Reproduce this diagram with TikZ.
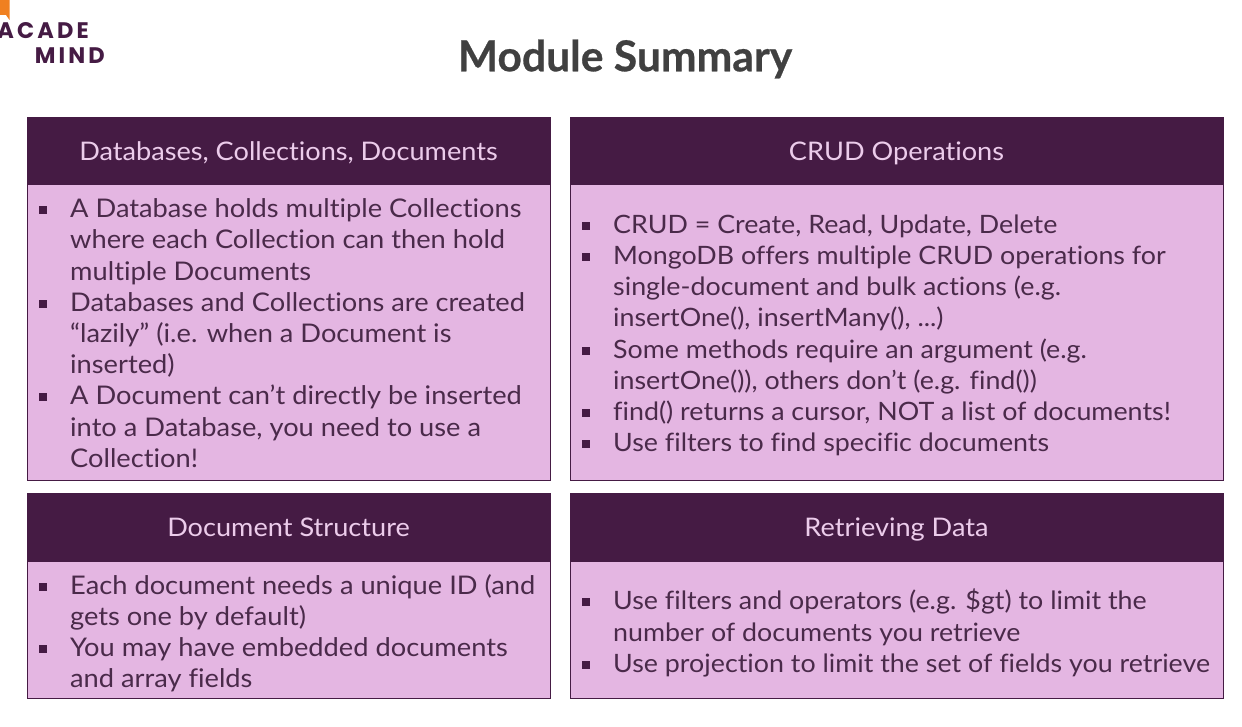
\documentclass[tikz,border=0pt]{standalone}
\usepackage{fontspec}
\setmainfont{Lato}
\newfontfamily\hdfont[FakeStretch=1.06,Ligatures=NoCommon]{Lato}
\newfontfamily\titlefont[FakeBold=0.6]{Lato Bold}
\newfontfamily\logofont[LetterSpace=14]{Poppins Bold}
\definecolor{plum}{HTML}{451B44}
\definecolor{lilac}{HTML}{E4B6E2}
\definecolor{inktxt}{HTML}{4A2A4A}
\definecolor{titlegrey}{HTML}{404040}
\definecolor{logoorange}{HTML}{F08020}
\newcommand{\bul}{\makebox[0pt][r]{\textcolor{plum}{\rule[3.5pt]{8pt}{8pt}}\hspace{23pt}}}
\tikzset{
 headbox/.style={draw=plum,fill=plum,line width=1pt,inner sep=0pt},
 bodybox/.style={draw=plum,fill=lilac,line width=1pt,inner sep=0pt},
 headtxt/.style={text=lilac!70!white,font=\hdfont\fontsize{25.6}{30}\selectfont,anchor=center,inner sep=0pt},
 listtxt/.style={text=inktxt,anchor=north west,inner sep=0pt,align=left,font=\hdfont\fontsize{25.7}{31.2}\selectfont},
 listwide/.style={listtxt,font=\hdfont\fontsize{25.3}{31.2}\selectfont},
 logotxt/.style={anchor=east,inner sep=0pt,text=plum,font=\logofont\fontsize{22.5}{26}\selectfont},
}
\begin{document}
\begin{tikzpicture}[x=1pt,y=-1pt]
\useasboundingbox (0,0) rectangle (1242,727);
\fill[white] (0,0) rectangle (1242,727);
\begin{scope}
\clip (0,0) rectangle (1242,727);
\fill[logoorange] (0,0) -- (9.5,0) -- (9.5,20) -- (6,15) -- (0,15) -- cycle;
\node[logotxt] (logoa) at (89,31) {ACADE};
\end{scope}
\node[logotxt] (logob) at (105,55.5) {MIND};
\node[anchor=center,inner sep=0pt,text=titlegrey,font=\titlefont\fontsize{42.6}{48}\selectfont] (title) at (625,59) {Module Summary};
% boxes
\draw[bodybox] (27.5,185) rectangle (550,480);
\draw[headbox] (27.5,117.5) rectangle (550,185);
\draw[bodybox] (570.5,185) rectangle (1223,480);
\draw[headbox] (570.5,117.5) rectangle (1223,185);
\draw[bodybox] (27.5,561) rectangle (550,698);
\draw[headbox] (27.5,493.5) rectangle (550,561);
\draw[bodybox] (570.5,561) rectangle (1223,698);
\draw[headbox] (570.5,493.5) rectangle (1223,561);
\node[headtxt,anchor=base] (h1) at (288.5,160.5) {Databases, Collections, Documents};
\node[headtxt,anchor=base] (h2) at (896.5,160.5) {CRUD Operations};
\node[headtxt,anchor=base] (h3) at (288.5,536.5) {Document Structure};
\node[headtxt,anchor=base] (h4) at (896.5,536.5) {Retrieving Data};
\node[listtxt] (l1) at (70,198.5) {\bul A Database holds multiple Collections\\
where each Collection can then hold\\
multiple Documents\\
\bul Databases and Collections are created\\
“lazily” (i.e. when a Document is\\
inserted)\\
\bul A Document can’t directly be inserted\\
into a Database, you need to use a\\
Collection!};
\node[listwide] (l2) at (613,214.5) {\bul CRUD = Create, Read, Update, Delete\\
\bul MongoDB offers multiple CRUD operations for\\
single-document and bulk actions (e.g.\\
insertOne(), insertMany(), ...)\\
\bul Some methods require an argument (e.g.\\
insertOne()), others don’t (e.g. find())\\
\bul find() returns a cursor, NOT a list of documents!\\
\bul Use filters to find specific documents};
\node[listtxt] (l3) at (70,574) {\bul Each document needs a unique ID (and\\
gets one by default)\\
\bul You may have embedded documents\\
and array fields};
\node[listwide] (l4) at (613,589) {\bul Use filters and operators (e.g. \$gt) to limit the\\
number of documents you retrieve\\
\bul Use projection to limit the set of fields you retrieve};
\end{tikzpicture}
\end{document}
